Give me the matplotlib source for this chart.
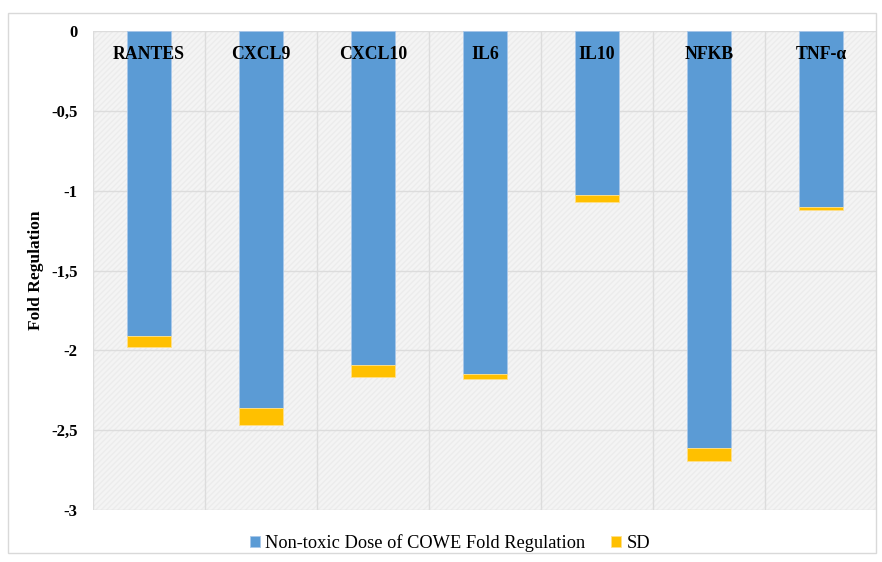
import numpy as np
import matplotlib.pyplot as plt
from matplotlib.patches import Rectangle

genes = ['RANTES', 'CXCL9', 'CXCL10', 'IL6', 'IL10', 'NFKB', 'TNF-α']
fold = [-1.91, -2.36, -2.09, -2.15, -1.03, -2.61, -1.10]
sd = [-0.07, -0.11, -0.08, -0.03, -0.04, -0.08, -0.02]
yticks = [0, -0.5, -1, -1.5, -2, -2.5, -3]
ytick_labels = ['0', '-0,5', '-1', '-1,5', '-2', '-2,5', '-3']

serif = ['Liberation Serif', 'DejaVu Serif']
blue = '#5B9BD5'
gold = '#FFC000'

fig = plt.figure(figsize=(8.82, 5.62), dpi=100)
# outer chart border
fig.patches.append(Rectangle((8/882, 9/562), 868/882, 540/562, transform=fig.transFigure,
                             fill=False, edgecolor='#d9d9d9', linewidth=1))

ax = fig.add_axes([93/882, 52/562, 784/882, 479/562])
ax.set_facecolor('#f4f4f4')
ax.add_patch(Rectangle((0, 0), 1, 1, transform=ax.transAxes, fill=False,
                       hatch='//////', edgecolor='#ececec', linewidth=0, zorder=0))

x = np.arange(len(genes))
ax.bar(x, fold, 0.39, color=blue, edgecolor='#a9c8ea', linewidth=0.6,
       label='Non-toxic Dose of COWE Fold Regulation', zorder=3)
ax.bar(x, sd, 0.39, bottom=fold, color=gold, edgecolor='#ffe08a', linewidth=0.6,
       label='SD', zorder=3)

for i, g in enumerate(genes):
    ax.text(i, -0.15, g, ha='center', va='center', fontsize=12.8, fontweight='bold',
            family=serif, zorder=4)

ax.set_xlim(-0.5, len(genes) - 0.5)
ax.set_ylim(-3, 0)
ax.set_yticks(yticks)
ax.set_yticklabels(ytick_labels, family=serif, fontweight='bold', fontsize=12)
ax.set_xticks(np.arange(len(genes) + 1) - 0.5, minor=True)
ax.set_xticks([])
ax.grid(axis='y', color='#dcdcdc', linewidth=1, zorder=1)
ax.grid(axis='x', which='minor', color='#dcdcdc', linewidth=1, zorder=1)
ax.tick_params(axis='both', which='both', length=0, pad=11)
for s in ax.spines.values():
    s.set_visible(False)

ax.set_ylabel('Fold Regulation', family=serif, fontweight='bold', fontsize=12.5, labelpad=5)

fig.legend(loc='center', bbox_to_anchor=(0.51, 19/562), ncol=2, frameon=False,
           prop={'family': serif, 'size': 13.2}, handlelength=0.55, handleheight=0.6,
           handletextpad=0.3, columnspacing=1.4)

plt.savefig('out.png', dpi=100)
